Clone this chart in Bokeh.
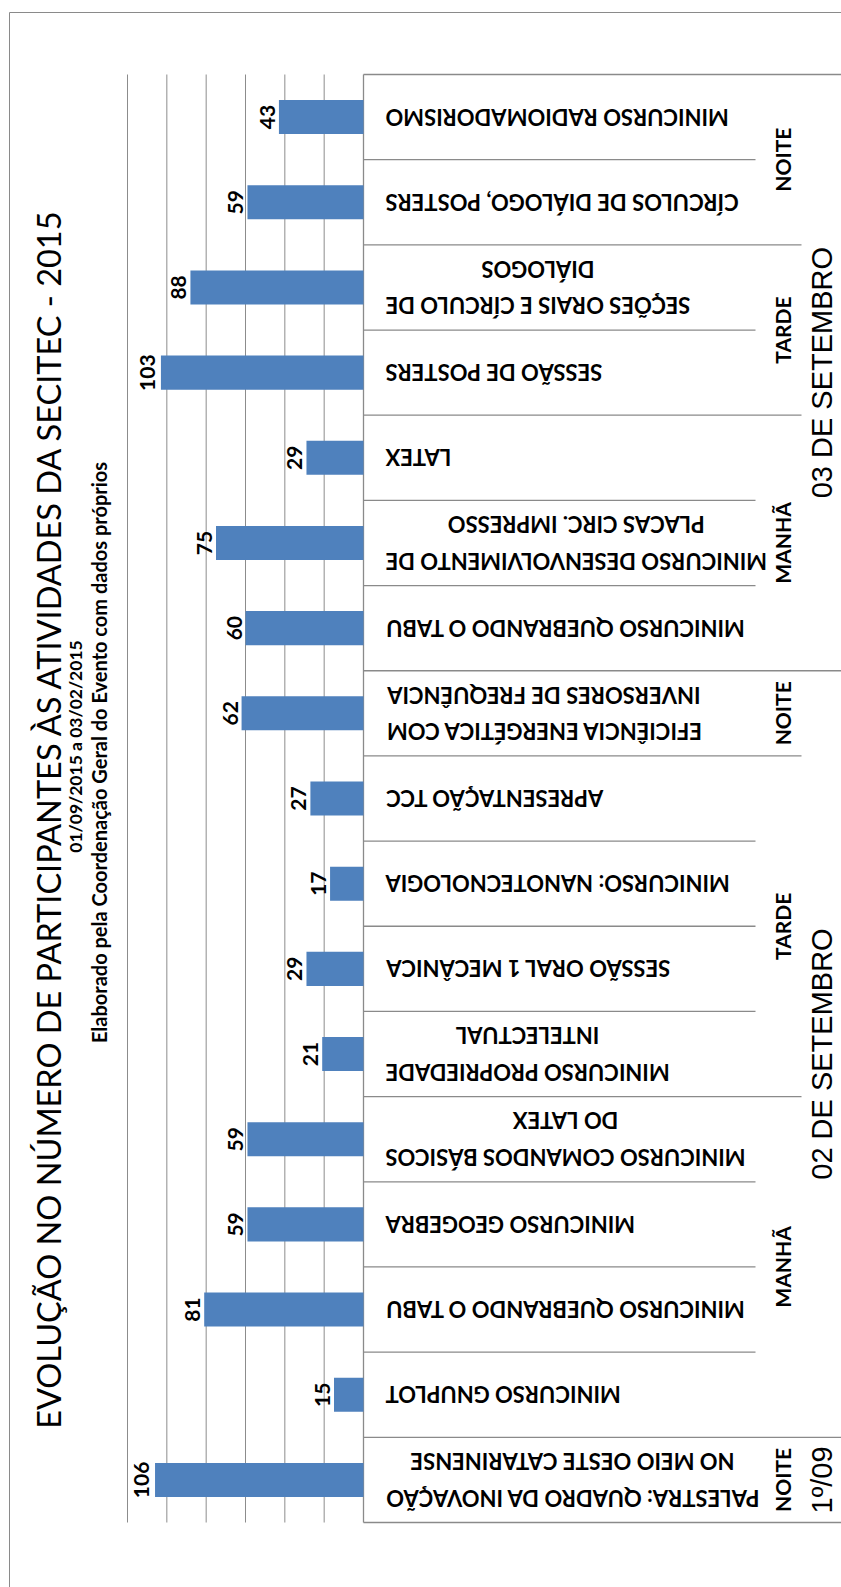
import math

from bokeh.core.properties import value
from bokeh.embed import file_html
from bokeh.models import Range1d
from bokeh.plotting import figure
from bokeh.resources import INLINE

# Activities in chronological order (first one: evening of 1º/09)
activities = [
    "PALESTRA: QUADRO DA INOVAÇÃO\nNO MEIO OESTE CATARINENSE",
    "MINICURSO GNUPLOT",
    "MINICURSO QUEBRANDO O TABU",
    "MINICURSO GEOGEBRA",
    "MINICURSO COMANDOS BÁSICOS\nDO LATEX",
    "MINICURSO PROPRIEDADE\nINTELECTUAL",
    "SESSÃO ORAL 1 MECÂNICA",
    "MINICURSO: NANOTECNOLOGIA",
    "APRESENTAÇÃO TCC",
    "EFICIÊNCIA ENERGÉTICA COM\nINVERSORES DE FREQUÊNCIA",
    "MINICURSO QUEBRANDO O TABU",
    "MINICURSO DESENVOLVIMENTO DE\nPLACAS CIRC. IMPRESSO",
    "LATEX",
    "SESSÃO DE POSTERS",
    "SEÇÕES ORAIS E CÍRCULO DE\nDIÁLOGOS",
    "CÍRCULOS DE DIÁLOGO, POSTERS",
    "MINICURSO RADIOMADORISMO",
]
participants = [106, 15, 81, 59, 59, 21, 29, 17, 27, 62, 60, 75, 29, 103, 88, 59, 43]

periods = ["NOITE", "MANHÃ", "TARDE", "NOITE", "MANHÃ", "TARDE", "NOITE"]
period_sizes = [1, 4, 4, 1, 3, 2, 2]
days = ["1º/09", "02 DE SETEMBRO", "03 DE SETEMBRO"]
day_sizes = [1, 9, 7]
value_ticks = [20, 40, 60, 80, 100, 120]

title = "EVOLUÇÃO NO NÚMERO DE PARTICIPANTES ÀS ATIVIDADES DA SECITEC - 2015"
subtitle = "01/09/2015 a 03/02/2015"
source_note = "Elaborado pela Coordenação Geral do Evento com dados próprios"

# ---- page geometry (pixels) ----
W, H = 841, 1587
AXIS_PX = 363            # category axis (value 0)
MAX_PX = 127             # value 120
TOP_PX, BOTTOM_PX = 74, 1522
n = len(activities)
PX_PER_UNIT = (AXIS_PX - MAX_PX) / max(value_ticks)
CELL = (BOTTOM_PX - TOP_PX) / n


def xd(px):
    """screen x -> data x (values grow to the left)"""
    return (AXIS_PX - px) / PX_PER_UNIT


def yd(py):
    """screen y -> data y (category slots counted from the bottom)"""
    return (BOTTOM_PX - py) / CELL


p = figure(
    width=W, height=H,
    x_range=Range1d(xd(0), xd(W)),
    y_range=Range1d(yd(H), yd(0)),
    x_axis_location=None, y_axis_location=None,
    output_backend="svg", toolbar_location=None,
    min_border=0,
)
p.grid.visible = False
p.outline_line_color = None
p.background_fill_color = "white"
p.border_fill_color = "white"

GRID = "#8c8c8c"
LINE = "#8a8a8a"
BAR = "#4F81BD"
FONT = value("Lato")

# chart-area border (left and top edges)
p.segment(x0=[xd(9), xd(9)], y0=[yd(12), yd(12)],
          x1=[xd(9), xd(W + 5)], y1=[yd(H + 5), yd(12)],
          line_color=LINE, line_width=1)

# value gridlines
p.segment(x0=value_ticks, y0=0, x1=value_ticks, y1=n, line_color=GRID, line_width=1)

# category axis line
p.segment(x0=[0], y0=[0], x1=[0], y1=[n], line_color=LINE, line_width=1.3)


def cumulative(sizes):
    out, s = [0], 0
    for k in sizes:
        s += k
        out.append(s)
    return out


# separators of the three category levels
day_edges = set(cumulative(day_sizes))
period_edges = set(cumulative(period_sizes))
sep_y, sep_x1 = [], []
for k in range(n + 1):
    if k in day_edges:
        end_px = W
    elif k in period_edges:
        end_px = 801
    else:
        end_px = 755
    sep_y.append(k)
    sep_x1.append(xd(end_px))
p.segment(x0=0, y0=sep_y, x1=sep_x1, y1=sep_y, line_color=LINE, line_width=1.3)

pos = [i + 0.5 for i in range(n)]

# bars
p.hbar(y=pos, left=0, right=participants, height=0.4,
       fill_color=BAR, line_color=None)

# value labels beside the bar ends
labels = [str(v) for v in participants]
p.text(x=participants, y=pos, text=labels,
       x_offset=[-(2 * len(s) + 7.5) for s in labels],
       angle=math.pi / 2, text_align="center", text_baseline="alphabetic",
       text_font=FONT, text_font_style="bold",
       text_font_size="21px", text_color="black")

# activity names (upside down, anchored next to the axis)
p.text(x=[0] * n, y=pos, text=activities, angle=math.pi,
       anchor=value("center_right"), text_align="center",
       text_baseline="middle", x_offset=22, text_line_height=1.35,
       text_font=FONT, text_font_style="bold",
       text_font_size="22px", text_color="black")

# period of the day
pc = cumulative(period_sizes)
period_mid = [(pc[i] + pc[i + 1]) / 2 for i in range(len(periods))]
p.text(x=[0] * len(periods), y=period_mid, text=periods, angle=math.pi / 2,
       text_align="center", text_baseline="alphabetic", x_offset=419,
       text_font=FONT, text_font_style="bold",
       text_font_size="21px", text_color="black")

# day
dc = cumulative(day_sizes)
day_mid = [(dc[i] + dc[i + 1]) / 2 for i in range(len(days))]
p.text(x=[0] * len(days), y=day_mid, text=days, angle=math.pi / 2,
       text_align="center", text_baseline="alphabetic", x_offset=458,
       text_font=value("Liberation Sans"), text_font_size="29px",
       text_color="black")

# titles, reading bottom to top
p.text(x=[xd(48)], y=[yd(818)], text=[title], angle=math.pi / 2,
       text_align="center", text_baseline="alphabetic",
       text_font=FONT, text_font_size="32.5px", text_color="black")
p.text(x=[xd(75)], y=[yd(746)], text=[subtitle], angle=math.pi / 2,
       text_align="center", text_baseline="alphabetic",
       text_font=FONT, text_font_style="bold",
       text_font_size="17.5px", text_color="black")
p.text(x=[xd(98)], y=[yd(752)], text=[source_note], angle=math.pi / 2,
       text_align="center", text_baseline="alphabetic",
       text_font=FONT, text_font_style="bold",
       text_font_size="20px", text_color="black")

open("out.html", "w").write(file_html(p, INLINE))
